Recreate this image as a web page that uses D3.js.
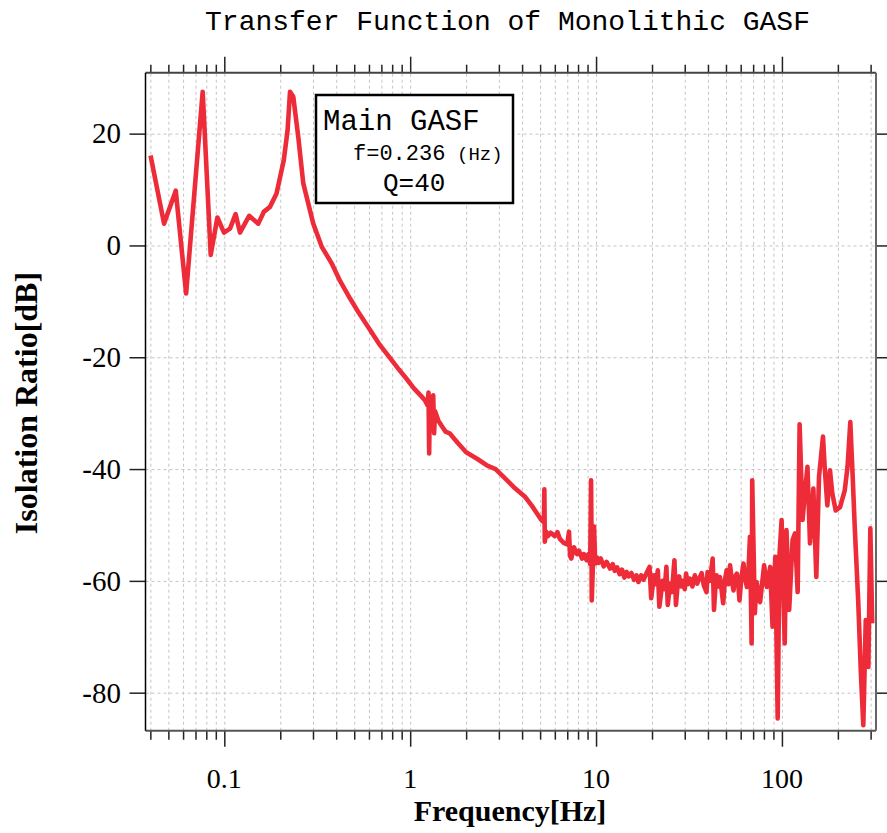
<!DOCTYPE html>
<html>
<head>
<meta charset="utf-8">
<script src="https://cdn.jsdelivr.net/npm/d3@7"></script>
<style>
body{margin:0;background:#fff;}
svg{display:block;}
</style>
</head>
<body>
<script>
// frequency [Hz] and isolation ratio [dB] (rows line up)
var freq=[0.0401,0.0474,0.0548,0.0623,0.0765,0.0845,0.0918,0.0996,0.1073,0.115,
    0.1214,0.136,0.1523,0.163,0.176,0.191,0.209,0.219,0.2257,0.235,
    0.25,0.266,0.301,0.334,0.378,0.42,0.475,0.53,0.6,0.68,
    0.795,0.87,0.953,1.05,1.15,1.2,1.24,1.255,1.265,1.275,
    1.3,1.33,1.345,1.36,1.42,1.5,1.55,1.63,1.8,2.0,
    2.3,2.6,2.88,3.2,3.6,4.16,4.5,5.1,5.24,5.27,
    5.3,5.4,5.5,5.7,6.0,6.2,6.39,6.7,7.0,7.15,
    7.25,7.36,7.6,7.9,8.1,8.4,8.6,8.9,9.1,9.3,
    9.4,9.45,9.48,9.6,9.75,9.9,10.1,10.3,10.6,11,
    11.4,11.9,12.3,12.6,13,13.4,13.8,14.2,14.6,15,
    15.5,16,16.5,16.9,17.5,18,18.7,19.4,19.8,20.5,
    21,21.5,21.9,22.8,23.4,23.9,24.3,25,25.6,26.4,
    26.9,27.5,28,28.6,29.3,30,30.5,31.2,32,33,
    34,35,35.9,37,38,39.3,39.8,41,42.4,43.1,
    44,44.5,45.5,46.4,47.3,48.3,49.3,50.4,51.5,52.6,
    53.7,54.9,56,57.2,58.2,59.1,60.5,62.1,63.4,64.8,
    66,67.3,68.7,69.2,71.5,73.0,76.3,80.2,82.9,86.5,
    89.0,92.1,94.9,97.0,99.6,103.5,105.8,109.4,114.1,117.6,
    121.5,124.5,129.1,132.8,137.2,141.6,147.6,153.1,158.3,166.3,
    169.8,175.5,181.3,186.7,194.7,205.4,217.8,225.4,233.3,240.7,
    246.4,257.2,266,274,282.5,291.8,299,306];
var ratio=[16.1,3.9,9.8,-8.6,27.5,-1.7,5.0,2.3,3.0,5.6,
    2.3,5.3,3.9,6.0,6.9,9.3,15.3,20.6,27.5,26.6,
    19.4,11.1,3.9,-0.2,-3.2,-6.4,-9.5,-12.1,-14.8,-17.6,
    -20.5,-22.2,-23.8,-25.6,-27.0,-27.7,-28.6,-26.3,-37.2,-27.8,
    -29.0,-26.8,-33.6,-29.6,-31.4,-32.6,-33.3,-33.6,-35.3,-37.0,
    -38.2,-39.4,-40.0,-41.5,-43.2,-45.0,-46.5,-49.2,-49.5,-43.6,
    -53.0,-51.2,-52.0,-51.4,-52.0,-51.3,-52.5,-53.2,-53.5,-51.2,
    -55.5,-56.0,-54.0,-55.2,-54.6,-56.0,-55.2,-56.3,-55.2,-57.0,
    -42.0,-52.0,-63.5,-58.0,-50.3,-56.9,-55.8,-56.8,-56.0,-57.4,
    -56.6,-57.8,-57.0,-58.2,-57.6,-58.8,-58.0,-59.4,-58.4,-59.2,
    -58.6,-59.8,-59.0,-60.2,-59.0,-59.8,-58.6,-57.5,-63.1,-59.0,
    -60.6,-58.1,-64.6,-60.0,-61.5,-57.5,-64.3,-60.5,-62.0,-56.3,
    -64.3,-60.5,-59.2,-61.0,-60.0,-61.5,-58.7,-60.6,-59.6,-61.0,
    -59.0,-60.5,-59.6,-58.6,-60.8,-62.0,-58.4,-60.0,-56.0,-65.2,
    -60.5,-59.0,-61.0,-59.3,-61.5,-64.0,-60.0,-58.1,-60.6,-57.2,
    -59.8,-61.7,-59.2,-58.7,-60.5,-63.5,-59.5,-56.9,-59.6,-61.1,
    -58.5,-52.1,-71.2,-42.0,-65.8,-60.2,-63.8,-57.2,-61.1,-57.5,
    -68.2,-55.7,-84.6,-55.4,-49.1,-71.2,-50.9,-65.2,-52.7,-51.5,
    -62.0,-32.0,-49.1,-44.4,-39.6,-53.3,-43.5,-59.3,-41.4,-34.2,
    -39.6,-46.5,-40.2,-44.4,-47.4,-46.8,-43.8,-39.6,-31.6,-42.0,
    -50.3,-63.5,-76.6,-85.8,-67.0,-75.4,-50.6,-67.6];
var xMajor=[0.1,1,10,100];
var xMajorLabels=["0.1","1","10","100"];
var yTicks=[-80,-60,-40,-20,0,20];
var titleText="Transfer Function of Monolithic GASF";
var legendName="Main GASF";
var legendFreq="f=0.236";
var legendUnit="(Hz)";
var legendQ="Q=40";

var width=887;
var height=833;
var padding={top:72.7,right:11,bottom:102.3,left:145.5};
var plotRight=width-padding.right;
var plotBottom=height-padding.bottom;
var lineColor="#ee2c39";
var mono="'Liberation Mono','Courier New',monospace";
var serif="'Liberation Serif','Times New Roman',serif";

var x=d3.scaleLog().domain([0.03767,320.7]).range([padding.left,plotRight]);
var y=d3.scaleLinear().domain([-86.8,30.9]).range([plotBottom,padding.top]);

var xMinor=[];
[0.01,0.1,1,10,100].forEach(function(d){
    for(var k=2;k<10;k++){
        var v=d*k;
        if(v>=x.domain()[0]&&v<=x.domain()[1]) xMinor.push(v);
    }
});

var svg=d3.select("body").append("svg").attr("width",width).attr("height",height);

// grid
svg.append("g").attr("class","grid")
    .attr("transform","translate(0,"+plotBottom+")")
    .call(d3.axisBottom(x).tickValues(xMajor.concat(xMinor)).tickSize(-(plotBottom-padding.top)).tickFormat(""));
svg.append("g").attr("class","grid")
    .attr("transform","translate("+padding.left+",0)")
    .call(d3.axisLeft(y).tickValues(yTicks).tickSize(-(plotRight-padding.left)).tickFormat(""));
svg.selectAll(".grid .domain").remove();
svg.selectAll(".grid line").attr("stroke","#c4c4c4").attr("stroke-width",1).attr("stroke-dasharray","3,3");

// curve
var line=d3.line()
    .x(function(d,i){return x(freq[i]);})
    .y(function(d){return y(d);});
svg.append("path").datum(ratio)
    .attr("fill","none")
    .attr("stroke",lineColor)
    .attr("stroke-width",4.6)
    .attr("stroke-linejoin","round")
    .attr("d",line);

// axes (ticks outside the frame)
function tickAxis(axis,transform,values,size){
    var g=svg.append("g").attr("transform",transform)
        .call(axis.tickValues(values).tickSize(size).tickSizeOuter(0).tickFormat(""));
    g.select(".domain").remove();
    g.selectAll("line").attr("stroke","#222").attr("stroke-width",1.5);
    return g;
}
tickAxis(d3.axisBottom(x),"translate(0,"+plotBottom+")",xMajor,16);
tickAxis(d3.axisBottom(x),"translate(0,"+plotBottom+")",xMinor,9);
tickAxis(d3.axisTop(x),"translate(0,"+padding.top+")",xMajor,16);
tickAxis(d3.axisTop(x),"translate(0,"+padding.top+")",xMinor,8);
tickAxis(d3.axisLeft(y),"translate("+padding.left+",0)",yTicks,16);
tickAxis(d3.axisRight(y),"translate("+plotRight+",0)",yTicks,16);

// frame
svg.append("line").attr("x1",padding.left).attr("x2",plotRight).attr("y1",padding.top).attr("y2",padding.top)
    .attr("stroke","#444").attr("stroke-width",2);
svg.append("line").attr("x1",padding.left).attr("x2",plotRight).attr("y1",plotBottom).attr("y2",plotBottom)
    .attr("stroke","#555").attr("stroke-width",2);
svg.append("line").attr("x1",plotRight).attr("x2",plotRight).attr("y1",padding.top).attr("y2",plotBottom)
    .attr("stroke","#666").attr("stroke-width",2);
svg.append("line").attr("x1",padding.left).attr("x2",padding.left).attr("y1",padding.top).attr("y2",plotBottom)
    .attr("stroke","#000").attr("stroke-width",1.5);

// tick labels
svg.selectAll(".xlabel").data(xMajor).enter().append("text")
    .attr("x",function(d){return x(d);})
    .attr("y",788)
    .attr("text-anchor","middle")
    .attr("font-family",serif)
    .attr("font-size","28px")
    .attr("fill","#000")
    .text(function(d,i){return xMajorLabels[i];});
svg.selectAll(".ylabel").data(yTicks).enter().append("text")
    .attr("x",121)
    .attr("y",function(d){return y(d);})
    .attr("dy","0.34em")
    .attr("text-anchor","end")
    .attr("font-family",serif)
    .attr("font-size","29px")
    .attr("fill","#000")
    .text(function(d){return d;});

// axis titles
svg.append("text")
    .attr("x",510).attr("y",821)
    .attr("text-anchor","middle")
    .attr("font-family",serif).attr("font-weight","bold").attr("font-size","30px")
    .text("Frequency[Hz]");
svg.append("text")
    .attr("transform","translate(37,403) rotate(-90)")
    .attr("text-anchor","middle")
    .attr("font-family",serif).attr("font-weight","bold").attr("font-size","32px")
    .text("Isolation Ratio[dB]");

// title
svg.append("text")
    .attr("x",507.5).attr("y",30)
    .attr("text-anchor","middle")
    .attr("font-family",mono).attr("font-size","28px")
    .text(titleText);

// legend box
svg.append("rect")
    .attr("x",316).attr("y",95).attr("width",197).attr("height",108)
    .attr("fill","#fff").attr("stroke","#000").attr("stroke-width",2.5);
svg.append("text").attr("x",323).attr("y",130)
    .attr("font-family",mono).attr("font-size","29px").text(legendName);
svg.append("text").attr("x",353).attr("y",160)
    .attr("font-family",mono).attr("font-size","22px").text(legendFreq);
svg.append("text").attr("x",457).attr("y",160)
    .attr("font-family",mono).attr("font-size","19px").text(legendUnit);
svg.append("text").attr("x",383).attr("y",191)
    .attr("font-family",mono).attr("font-size","26px").text(legendQ);
</script>
</body>
</html>
